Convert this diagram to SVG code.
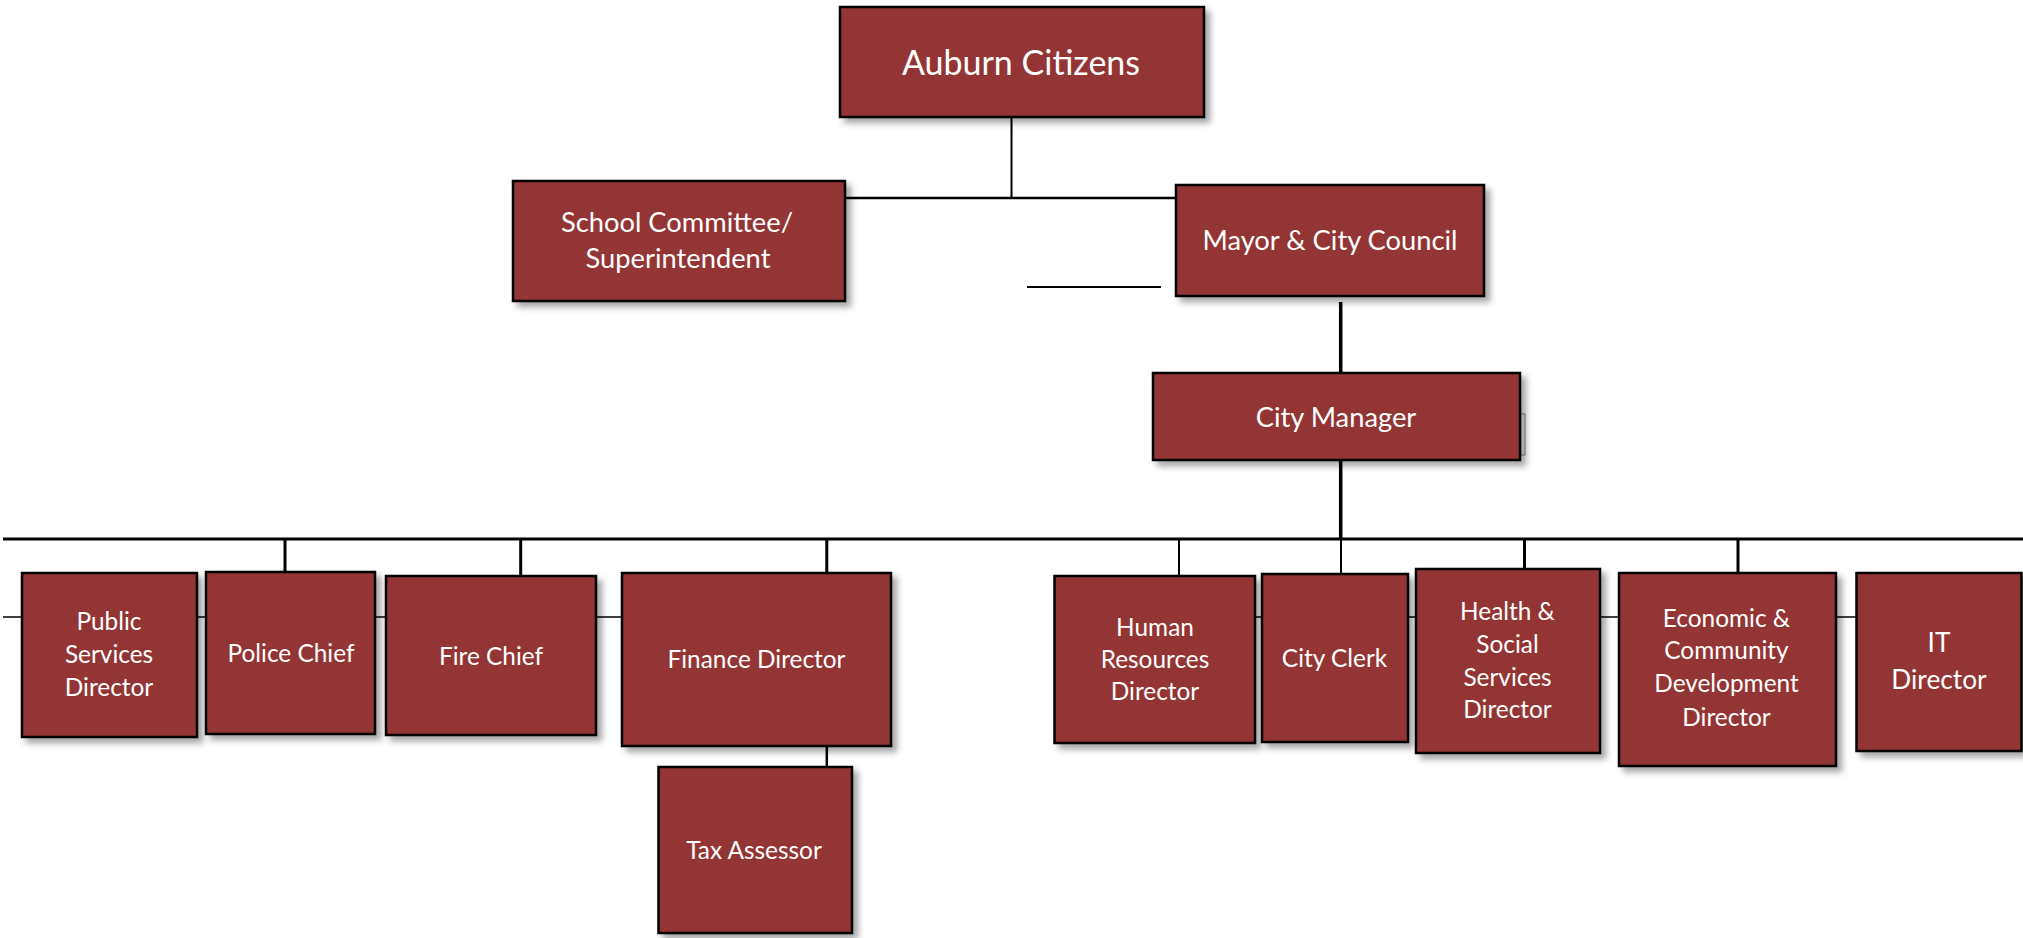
<svg xmlns="http://www.w3.org/2000/svg" width="2023" height="938" viewBox="0 0 2023 938">
<defs>
<filter id="sh" x="-10%" y="-10%" width="130%" height="130%">
<feDropShadow dx="5" dy="5" stdDeviation="3" flood-color="#000" flood-opacity="0.35"/>
</filter>
<style>
.box{fill:#943634;stroke:#000;stroke-width:2.5;filter:url(#sh)}
.t{fill:#fff;font-family:Lato,"Open Sans",sans-serif;font-size:24.4px;text-anchor:middle}
.t.xl{font-size:34px}
.t.l{font-size:27.3px}
.t.m{font-size:26.3px}
.c{stroke:#000;fill:none}
</style>
</defs>
<rect width="2023" height="938" fill="#fff"/>
<g id="connectors">
<path class="c" stroke-width="2" d="M1011.5 117V198"/>
<path class="c" stroke-width="2.5" d="M845 198H1176"/>
<path class="c" stroke-width="2" d="M1027 287H1161"/>
<path class="c" stroke-width="3.5" d="M1340.7 302V373M1340.7 460V539"/>
<path class="c" stroke-width="3" d="M3 539H2023"/>
<path class="c" stroke-width="3" d="M285 539V572M520.7 539V576M826.8 539V573M1524.5 539V569M1738 539V573"/>
<path class="c" stroke-width="2" d="M1179 539V576M1341 539V574"/>
<path class="c" stroke-width="2.5" d="M826.8 746V767"/>
<path class="c" stroke-width="1.5" d="M3 617H891M1255 617H2021"/>
</g>
<g id="auburn"><rect class="box" x="840" y="7" width="364" height="110"/><text class="t xl" x="1021" y="75">Auburn Citizens</text></g>
<g id="school"><rect class="box" x="513" y="181" width="332" height="120"/><text class="t l" x="677" y="232">School Committee/</text><text class="t l" x="678" y="268">Superintendent</text></g>
<g id="mayor"><rect class="box" x="1176" y="185" width="308" height="111"/><text class="t l" x="1330" y="250">Mayor &amp; City Council</text></g>
<g id="citymanager"><rect x="1518" y="414" width="7" height="41" fill="#f2f2f2" stroke="#888" stroke-width="1"/><rect class="box" x="1153" y="373" width="367" height="87"/><text class="t l" x="1336" y="427">City Manager</text></g>
<g id="public"><rect class="box" x="22" y="573" width="175" height="164"/><text class="t" x="109" y="630">Public</text><text class="t" x="109" y="663">Services</text><text class="t" x="109" y="696">Director</text></g>
<g id="police"><rect class="box" x="206" y="572" width="169" height="162"/><text class="t" x="291" y="662">Police Chief</text></g>
<g id="fire"><rect class="box" x="386" y="576" width="210" height="159"/><text class="t" x="491" y="665">Fire Chief</text></g>
<g id="finance"><rect class="box" x="622" y="573" width="269" height="173"/><text class="t" x="756.5" y="668">Finance Director</text></g>
<g id="tax"><rect class="box" x="658.5" y="767" width="193.5" height="166"/><text class="t" x="754" y="859">Tax Assessor</text></g>
<g id="hr"><rect class="box" x="1054.5" y="576" width="200.5" height="167"/><text class="t" x="1155" y="636">Human</text><text class="t" x="1155" y="668">Resources</text><text class="t" x="1155" y="700">Director</text></g>
<g id="clerk"><rect class="box" x="1262" y="574" width="146" height="168"/><text class="t" x="1334.5" y="667">City Clerk</text></g>
<g id="health"><rect class="box" x="1416" y="569" width="184" height="184"/><text class="t" x="1507.5" y="620">Health &amp;</text><text class="t" x="1507.5" y="653">Social</text><text class="t" x="1507.5" y="686">Services</text><text class="t" x="1507.5" y="718">Director</text></g>
<g id="economic"><rect class="box" x="1619" y="573" width="217" height="193"/><text class="t" x="1726.5" y="627">Economic &amp;</text><text class="t" x="1726.5" y="659">Community</text><text class="t" x="1726.5" y="692">Development</text><text class="t" x="1726.5" y="726">Director</text></g>
<g id="it"><rect class="box" x="1856.5" y="573" width="165" height="178"/><text class="t m" x="1939" y="652">IT</text><text class="t m" x="1939" y="689">Director</text></g>
</svg>
